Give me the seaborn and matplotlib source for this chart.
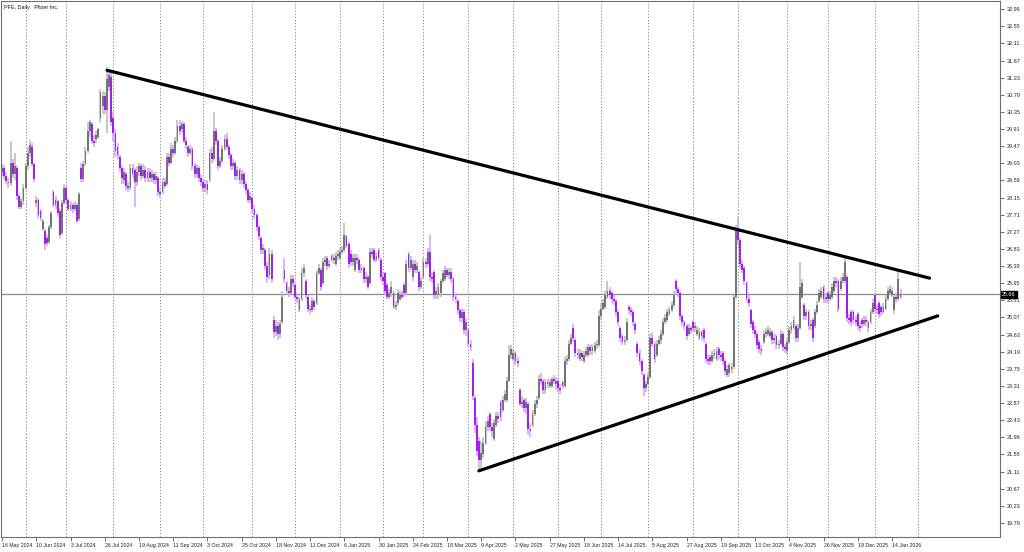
import numpy as np
import pandas as pd
import matplotlib
matplotlib.use('Agg')
import matplotlib.pyplot as plt
import matplotlib.transforms as mtransforms
import seaborn as sns

# PFE daily candles, 16 May 2024 .. 21 Jan 2026
opens = [
    28.80, 28.92, 28.70, 28.55, 28.52, 29.05, 28.75, 28.90, 28.20, 27.92,
    28.05, 28.40, 28.95, 29.30, 29.45, 29.00, 28.00, 28.10, 27.80, 27.35,
    27.30, 27.10, 27.00, 27.40, 28.30, 27.95, 28.05, 27.80, 27.25, 28.00,
    28.40, 28.10, 27.85, 27.95, 27.85, 27.95, 27.60, 28.90, 28.62, 29.00,
    29.35, 29.85, 30.05, 29.60, 29.65, 29.70, 30.20, 30.50, 30.75, 30.40,
    31.00, 31.25, 30.20, 29.80, 29.45, 29.20, 28.90, 28.60, 28.75, 28.45,
    28.40, 28.90, 28.85, 28.55, 28.80, 28.95, 28.70, 28.85, 28.65, 28.80,
    28.65, 28.75, 28.60, 28.65, 28.30, 28.30, 28.55, 28.50, 29.20, 29.05,
    29.40, 29.30, 29.60, 30.00, 29.90, 30.05, 29.60, 29.45, 29.30, 29.40,
    28.95, 28.75, 28.90, 28.65, 28.55, 28.40, 28.50, 28.60, 29.30, 29.15,
    29.85, 29.60, 28.95, 29.10, 29.40, 29.65, 29.45, 29.25, 28.95, 29.05,
    28.70, 28.85, 28.60, 28.75, 28.50, 28.35, 28.10, 28.15, 27.85, 27.70,
    27.40, 27.10, 26.80, 26.80, 26.40, 26.15, 26.70, 25.00, 24.70, 24.85,
    24.65, 24.95, 26.30, 25.95, 25.75, 25.70, 26.05, 25.90, 25.60, 25.25,
    25.55, 26.20, 26.00, 25.60, 25.30, 25.25, 25.50, 25.45, 26.20, 26.30,
    25.95, 26.50, 26.60, 26.40, 26.55, 26.60, 26.45, 26.65, 26.60, 26.75,
    26.80, 27.15, 26.95, 26.70, 26.50, 26.30, 26.60, 26.55, 26.30, 26.35,
    26.05, 26.10, 25.95, 26.75, 26.80, 26.55, 26.80, 26.55, 26.10, 26.20,
    25.90, 25.60, 25.70, 25.70, 25.35, 25.45, 25.55, 25.65, 25.90, 25.70,
    26.70, 26.35, 26.10, 26.45, 26.30, 26.25, 25.85, 26.10, 26.50, 26.45,
    26.75, 26.10, 26.25, 25.65, 25.65, 25.70, 26.00, 26.05, 26.30, 26.15,
    26.25, 26.05, 25.60, 25.50, 25.25, 25.05, 25.20, 24.75, 24.75, 24.40,
    23.90, 23.00, 22.30, 21.90, 21.40, 21.55, 21.85, 22.25, 22.60, 22.25,
    21.95, 22.30, 22.55, 22.90, 22.70, 22.95, 22.95, 23.45, 24.10, 24.00,
    24.15, 23.95, 23.20, 22.85, 22.95, 22.75, 22.85, 22.20, 22.30, 22.60,
    22.85, 23.00, 23.50, 23.45, 23.20, 23.40, 23.30, 23.30, 23.50, 23.35,
    23.45, 23.25, 23.40, 23.30, 23.95, 24.00, 24.40, 24.80, 24.50, 24.15,
    24.00, 24.15, 23.95, 24.10, 24.10, 24.30, 24.20, 24.20, 24.35, 24.35,
    25.10, 25.30, 25.35, 25.60, 25.75, 25.70, 25.55, 25.50, 25.20, 24.80,
    24.60, 24.45, 24.50, 25.35, 25.25, 25.20, 24.90, 24.40, 24.15, 23.95,
    23.60, 23.25, 23.35, 23.55, 24.55, 24.40, 24.10, 24.40, 24.50, 24.65,
    24.95, 25.00, 25.15, 25.25, 25.40, 26.00, 25.80, 25.70, 25.10, 24.95,
    24.85, 24.65, 24.80, 24.95, 24.80, 24.65, 24.55, 24.70, 24.75, 24.40,
    24.00, 24.05, 23.95, 24.10, 24.00, 24.25, 24.10, 24.15, 23.95, 23.60,
    23.65, 23.75, 23.80, 25.60, 27.35, 27.05, 26.45, 26.35, 25.95, 25.55,
    25.25, 24.95, 24.75, 24.65, 24.45, 24.25, 24.45, 24.65, 24.65, 24.60,
    24.70, 24.50, 24.60, 24.35, 24.40, 24.65, 24.30, 24.20, 24.45, 24.75,
    24.80, 24.85, 24.55, 24.80, 25.60, 25.40, 25.10, 25.20, 24.85, 25.00,
    24.85, 25.20, 25.50, 25.60, 25.85, 25.55, 25.70, 25.55, 25.60, 25.75,
    26.00, 26.00, 25.80, 26.00, 26.00, 26.10, 25.05, 25.20, 25.20, 25.00,
    25.15, 24.85, 25.00, 24.90, 25.00, 24.80, 24.95, 25.20, 25.65, 25.30,
    25.45, 25.35, 25.20, 25.30, 25.55, 25.70, 25.65, 25.25, 25.60, 25.55, 25.60,
]
highs = [
    29.00, 28.98, 28.80, 28.65, 29.60, 29.15, 29.30, 28.95, 28.25, 28.15,
    28.50, 29.05, 29.45, 29.62, 29.55, 29.05, 28.20, 28.15, 27.85, 27.60,
    27.35, 27.20, 27.45, 27.80, 28.35, 28.20, 28.10, 27.85, 28.10, 28.50,
    28.45, 28.15, 28.05, 28.00, 28.05, 28.00, 28.30, 29.05, 29.10, 29.45,
    30.10, 30.15, 30.10, 29.75, 29.85, 29.95, 30.95, 30.90, 30.85, 31.50,
    31.42, 31.35, 30.35, 29.90, 29.55, 29.25, 28.95, 28.90, 28.80, 28.55,
    29.00, 29.00, 28.90, 28.95, 29.05, 29.00, 29.00, 28.95, 28.90, 28.90,
    28.85, 28.80, 28.80, 28.70, 28.40, 28.65, 28.65, 29.30, 29.30, 29.55,
    29.50, 29.70, 30.15, 30.15, 30.10, 30.10, 29.70, 29.50, 29.50, 29.45,
    29.05, 29.00, 28.95, 28.75, 28.60, 28.60, 28.60, 29.40, 29.45, 30.35,
    29.95, 29.65, 29.20, 29.50, 29.75, 29.80, 29.50, 29.30, 29.15, 29.10,
    28.95, 28.90, 28.85, 28.80, 28.55, 28.40, 28.30, 28.20, 27.95, 27.75,
    27.45, 27.15, 26.95, 26.85, 26.50, 26.85, 26.80, 25.10, 25.00, 24.95,
    25.00, 25.75, 26.60, 26.00, 25.85, 26.15, 26.15, 25.95, 25.70, 25.60,
    26.35, 26.45, 26.05, 25.65, 25.40, 25.60, 25.55, 26.30, 26.45, 26.35,
    26.60, 26.65, 26.65, 26.55, 26.70, 26.70, 26.75, 26.80, 26.85, 26.90,
    27.50, 27.20, 27.00, 26.80, 26.70, 26.70, 26.70, 26.60, 26.45, 26.40,
    26.25, 26.15, 26.85, 26.85, 26.85, 26.75, 26.85, 26.60, 26.20, 26.25,
    25.95, 25.80, 26.00, 25.75, 25.50, 25.80, 25.75, 25.75, 25.95, 26.55,
    26.75, 26.65, 26.55, 26.55, 26.50, 26.30, 26.10, 26.60, 26.60, 26.85,
    27.20, 26.20, 26.30, 25.85, 25.95, 26.05, 26.30, 26.40, 26.35, 26.35,
    26.35, 26.10, 25.70, 25.55, 25.30, 25.30, 25.30, 25.05, 24.80, 24.50,
    24.00, 23.05, 22.50, 22.00, 21.90, 22.00, 22.40, 22.55, 22.65, 22.35,
    22.45, 22.65, 22.65, 22.95, 23.05, 23.20, 23.55, 24.35, 24.35, 24.25,
    24.20, 24.05, 23.25, 23.05, 23.00, 23.00, 22.90, 22.35, 22.70, 22.95,
    23.05, 23.60, 23.65, 23.50, 23.50, 23.50, 23.50, 23.55, 23.60, 23.55,
    23.50, 23.35, 23.45, 24.05, 24.10, 24.50, 24.65, 24.90, 24.55, 24.25,
    24.25, 24.20, 24.20, 24.30, 24.40, 24.35, 24.40, 24.45, 24.50, 25.25,
    25.45, 25.55, 25.75, 26.00, 25.85, 25.75, 25.65, 25.55, 25.25, 24.85,
    24.65, 24.60, 25.05, 25.40, 25.35, 25.25, 24.95, 24.45, 24.25, 24.00,
    23.65, 23.45, 23.65, 24.65, 24.70, 24.45, 24.50, 24.60, 24.75, 25.05,
    25.15, 25.30, 25.35, 25.50, 25.75, 26.05, 25.85, 25.75, 25.15, 25.00,
    24.90, 24.90, 24.85, 25.00, 24.95, 24.85, 24.80, 24.75, 24.80, 24.45,
    24.10, 24.10, 24.20, 24.25, 24.30, 24.30, 24.20, 24.20, 24.00, 23.85,
    23.90, 23.90, 25.65, 27.45, 27.65, 27.10, 26.55, 26.40, 26.00, 25.65,
    25.30, 25.00, 24.85, 24.70, 24.50, 24.35, 24.75, 24.80, 24.85, 24.80,
    24.75, 24.65, 24.65, 24.50, 24.75, 24.70, 24.40, 24.55, 24.85, 24.95,
    25.10, 24.90, 24.90, 26.50, 26.05, 25.45, 25.30, 25.25, 25.00, 25.05,
    25.30, 25.50, 25.80, 25.85, 25.90, 25.70, 25.75, 25.75, 25.95, 26.10,
    26.10, 26.05, 26.10, 26.20, 26.60, 26.15, 25.15, 25.25, 25.25, 25.10,
    25.20, 24.95, 25.05, 25.10, 25.10, 25.00, 25.30, 25.55, 25.70, 25.40,
    25.50, 25.40, 25.45, 25.65, 25.85, 25.90, 25.85, 25.65, 25.70, 26.30, 25.80,
]
lows = [
    28.70, 28.62, 28.50, 28.40, 28.45, 28.65, 28.60, 28.10, 27.85, 27.85,
    27.95, 28.35, 28.85, 29.20, 28.95, 28.55, 27.90, 27.62, 27.55, 27.30,
    26.80, 26.90, 26.95, 27.35, 27.90, 27.85, 27.65, 27.10, 27.20, 27.95,
    28.00, 27.80, 27.80, 27.75, 27.80, 27.50, 27.55, 28.55, 28.55, 28.95,
    29.30, 29.70, 29.55, 29.45, 29.55, 29.65, 30.10, 30.30, 30.30, 29.80,
    30.90, 30.00, 29.60, 29.20, 29.15, 28.80, 28.50, 28.50, 28.35, 28.30,
    28.35, 28.65, 27.90, 28.45, 28.70, 28.60, 28.65, 28.55, 28.55, 28.55,
    28.55, 28.50, 28.50, 28.20, 28.15, 28.25, 28.40, 28.45, 28.95, 29.00,
    29.20, 29.25, 29.55, 29.75, 29.80, 29.55, 29.40, 29.20, 29.25, 28.85,
    28.65, 28.65, 28.55, 28.45, 28.30, 28.30, 28.25, 28.55, 29.05, 29.10,
    29.50, 28.85, 28.90, 29.05, 29.35, 29.40, 29.15, 28.85, 28.85, 28.60,
    28.60, 28.50, 28.50, 28.40, 28.25, 28.00, 28.00, 27.75, 27.60, 27.30,
    27.05, 26.70, 26.70, 26.30, 25.95, 26.05, 25.95, 24.55, 24.60, 24.50,
    24.55, 24.90, 25.95, 25.65, 25.60, 25.65, 25.85, 25.55, 25.45, 25.20,
    25.50, 26.10, 25.55, 25.20, 25.15, 25.20, 25.25, 25.40, 26.15, 25.75,
    25.90, 26.40, 26.30, 26.35, 26.50, 26.45, 26.40, 26.55, 26.55, 26.70,
    26.75, 26.85, 26.35, 26.40, 26.40, 26.25, 26.45, 26.20, 26.20, 25.95,
    25.95, 25.80, 25.90, 26.60, 26.50, 26.50, 26.55, 26.00, 25.90, 25.65,
    25.55, 25.55, 25.60, 25.30, 25.25, 25.40, 25.50, 25.55, 25.60, 25.65,
    26.25, 26.30, 26.00, 26.20, 26.20, 25.75, 25.80, 26.05, 26.35, 26.40,
    26.00, 25.95, 25.55, 25.55, 25.55, 25.60, 25.95, 26.00, 26.10, 26.05,
    25.95, 25.50, 25.45, 25.15, 24.95, 24.95, 24.65, 24.60, 24.30, 24.20,
    22.95, 22.10, 21.50, 21.10, 21.20, 21.45, 21.80, 22.15, 22.15, 22.00,
    21.90, 22.25, 22.35, 22.40, 22.65, 22.90, 22.90, 23.40, 24.00, 23.95,
    23.85, 23.80, 22.80, 22.75, 22.65, 22.60, 22.05, 22.00, 22.25, 22.55,
    22.75, 22.95, 23.35, 23.10, 23.10, 23.25, 23.25, 23.25, 23.35, 23.20,
    23.15, 23.10, 23.25, 23.25, 23.85, 23.95, 24.35, 24.45, 24.05, 24.00,
    23.95, 23.95, 23.90, 24.05, 24.05, 24.10, 24.10, 24.15, 24.25, 24.30,
    25.00, 25.25, 25.30, 25.55, 25.55, 25.45, 25.40, 25.10, 24.85, 24.45,
    24.35, 24.35, 24.45, 25.15, 25.10, 24.85, 24.65, 24.05, 23.85, 23.60,
    23.05, 23.15, 23.30, 23.50, 24.30, 23.90, 24.05, 24.35, 24.40, 24.60,
    24.90, 24.95, 25.10, 25.20, 25.35, 25.70, 25.60, 25.00, 24.85, 24.75,
    24.50, 24.60, 24.65, 24.70, 24.70, 24.60, 24.50, 24.50, 24.45, 23.90,
    23.85, 23.85, 23.90, 24.00, 23.95, 24.00, 23.95, 23.85, 23.60, 23.55,
    23.55, 23.65, 23.75, 25.55, 26.95, 26.35, 26.20, 25.90, 25.45, 25.35,
    24.80, 24.65, 24.55, 24.25, 24.15, 24.10, 24.40, 24.55, 24.60, 24.55,
    24.40, 24.40, 24.25, 24.25, 24.35, 24.20, 24.15, 24.10, 24.40, 24.65,
    24.75, 24.45, 24.45, 24.75, 25.55, 25.00, 25.00, 24.75, 24.75, 24.45,
    24.80, 25.15, 25.45, 25.55, 25.45, 25.45, 25.45, 25.50, 25.55, 25.70,
    25.85, 25.20, 25.75, 25.95, 25.95, 24.95, 24.90, 24.85, 24.90, 24.85,
    24.75, 24.70, 24.80, 24.85, 24.85, 24.70, 24.90, 25.15, 25.20, 25.15,
    25.05, 25.10, 25.15, 25.25, 25.50, 25.65, 25.60, 25.15, 25.45, 25.50, 25.55,
]
closes = [
    28.92, 28.70, 28.58, 28.52, 29.05, 28.75, 28.95, 28.20, 27.92, 28.05,
    28.40, 28.95, 29.30, 29.50, 29.00, 28.62, 28.10, 27.70, 27.62, 27.55,
    26.95, 26.98, 27.40, 27.75, 27.95, 28.10, 27.75, 27.20, 28.00, 28.40,
    28.10, 27.85, 27.95, 27.85, 27.95, 27.55, 28.25, 28.62, 29.00, 29.35,
    29.85, 30.10, 29.60, 29.55, 29.75, 29.90, 30.85, 30.75, 30.40, 31.20,
    31.30, 30.10, 29.80, 29.35, 29.25, 28.90, 28.65, 28.80, 28.45, 28.40,
    28.90, 28.75, 28.55, 28.80, 28.95, 28.70, 28.85, 28.65, 28.80, 28.65,
    28.75, 28.60, 28.70, 28.30, 28.25, 28.55, 28.45, 29.20, 29.05, 29.40,
    29.30, 29.60, 30.00, 29.85, 30.05, 29.60, 29.50, 29.30, 29.40, 28.95,
    28.75, 28.90, 28.65, 28.55, 28.40, 28.50, 28.35, 29.30, 29.15, 29.85,
    29.60, 28.95, 29.10, 29.40, 29.65, 29.45, 29.25, 28.95, 29.05, 28.70,
    28.85, 28.60, 28.75, 28.50, 28.35, 28.10, 28.20, 27.85, 27.70, 27.40,
    27.15, 26.80, 26.85, 26.40, 26.10, 26.70, 26.05, 24.70, 24.85, 24.65,
    24.90, 25.60, 26.05, 25.75, 25.70, 26.05, 25.95, 25.60, 25.55, 25.55,
    26.20, 26.35, 25.65, 25.30, 25.25, 25.50, 25.35, 26.20, 26.35, 25.85,
    26.50, 26.55, 26.40, 26.45, 26.65, 26.55, 26.65, 26.70, 26.75, 26.80,
    27.20, 26.90, 26.45, 26.50, 26.60, 26.60, 26.55, 26.30, 26.35, 26.05,
    26.10, 25.85, 26.75, 26.70, 26.55, 26.65, 26.60, 26.10, 26.00, 25.75,
    25.60, 25.70, 25.85, 25.35, 25.40, 25.70, 25.65, 25.60, 25.70, 26.45,
    26.35, 26.55, 26.45, 26.30, 26.40, 25.85, 26.00, 26.50, 26.45, 26.75,
    26.10, 26.05, 25.65, 25.75, 25.85, 26.00, 26.20, 26.30, 26.15, 26.25,
    26.05, 25.60, 25.55, 25.25, 25.05, 25.20, 24.75, 24.95, 24.40, 24.30,
    23.05, 22.30, 21.65, 21.40, 21.60, 21.85, 22.25, 22.40, 22.25, 22.15,
    22.35, 22.55, 22.45, 22.50, 22.95, 23.10, 23.45, 24.10, 24.25, 24.15,
    23.95, 23.90, 22.85, 22.90, 22.75, 22.90, 22.20, 22.15, 22.60, 22.85,
    22.95, 23.50, 23.45, 23.20, 23.40, 23.35, 23.40, 23.50, 23.45, 23.45,
    23.25, 23.20, 23.30, 23.95, 24.00, 24.40, 24.55, 24.55, 24.15, 24.10,
    24.15, 24.05, 24.10, 24.20, 24.30, 24.20, 24.30, 24.35, 24.40, 25.10,
    25.30, 25.45, 25.65, 25.75, 25.65, 25.55, 25.50, 25.20, 24.95, 24.55,
    24.45, 24.50, 24.95, 25.25, 25.20, 24.95, 24.75, 24.15, 23.95, 23.70,
    23.25, 23.35, 23.55, 24.55, 24.40, 24.00, 24.40, 24.50, 24.65, 24.95,
    25.05, 25.20, 25.25, 25.40, 25.65, 25.80, 25.70, 25.10, 24.95, 24.85,
    24.60, 24.80, 24.75, 24.80, 24.85, 24.75, 24.70, 24.60, 24.55, 24.00,
    23.95, 23.95, 24.10, 24.15, 24.20, 24.10, 24.05, 23.95, 23.70, 23.75,
    23.85, 23.80, 25.60, 27.30, 27.05, 26.45, 26.30, 26.00, 25.55, 25.45,
    24.90, 24.75, 24.65, 24.35, 24.25, 24.20, 24.65, 24.70, 24.75, 24.70,
    24.50, 24.55, 24.35, 24.40, 24.65, 24.30, 24.25, 24.45, 24.75, 24.85,
    25.00, 24.55, 24.80, 25.85, 25.95, 25.10, 25.20, 24.85, 24.90, 24.55,
    25.20, 25.40, 25.70, 25.75, 25.55, 25.60, 25.55, 25.65, 25.85, 26.00,
    25.95, 25.30, 26.00, 26.10, 26.50, 25.05, 25.00, 24.95, 25.00, 24.95,
    24.85, 24.80, 24.90, 25.00, 24.95, 24.95, 25.20, 25.45, 25.30, 25.25,
    25.15, 25.20, 25.35, 25.55, 25.75, 25.80, 25.75, 25.60, 25.55, 26.05, 25.66,
]

# bottom axis labels, one every 16 bars
tick_labels = ['16 May 2024', '10 Jun 2024', '3 Jul 2024', '26 Jul 2024', '19 Aug 2024',
               '11 Sep 2024', '3 Oct 2024', '25 Oct 2024', '18 Nov 2024', '11 Dec 2024',
               '6 Jan 2025', '30 Jan 2025', '24 Feb 2025', '18 Mar 2025', '9 Apr 2025',
               '2 May 2025', '27 May 2025', '18 Jun 2025', '14 Jul 2025', '5 Aug 2025',
               '27 Aug 2025', '19 Sep 2025', '13 Oct 2025', '4 Nov 2025', '26 Nov 2025',
               '19 Dec 2025', '14 Jan 2026']
tick_step = 16

# exchange holidays, used for the monthly separators
holidays = ['2024-05-27', '2024-06-19', '2024-07-04', '2024-09-02', '2024-11-28',
            '2024-12-25', '2025-01-01', '2025-01-09', '2025-01-20', '2025-02-17',
            '2025-04-18', '2025-05-26', '2025-06-19', '2025-07-04', '2025-09-01',
            '2025-11-27', '2025-12-25', '2026-01-01', '2026-01-19']

# trend lines: (bar index, price) anchors
upper_bars = [49.1, 433.6]
upper_prices = [31.42, 26.08]
lower_bars = [222.9, 437.4]
lower_prices = [21.13, 25.11]

last_price = 25.66
y_ticks = [19.79, 20.23, 20.67, 21.11, 21.55, 21.99, 22.43, 22.87, 23.31, 23.75,
           24.19, 24.63, 25.07, 25.51, 25.95, 26.39, 26.83, 27.27, 27.71, 28.15,
           28.59, 29.03, 29.47, 29.91, 30.35, 30.79, 31.23, 31.67, 32.11, 32.55, 32.99]

sns.set_theme(style='white')
plt.rcParams['font.family'] = ['Liberation Sans', 'DejaVu Sans']

o = np.array(opens); h = np.array(highs); l = np.array(lows); c = np.array(closes)
n = len(c)
idx = np.arange(n)
h = np.maximum(h, np.maximum(o, c))
l = np.minimum(l, np.minimum(o, c))
up = c >= o

fig = plt.figure(figsize=(10.24, 5.52), dpi=100)
ax = fig.add_axes([1 / 1024, 15 / 552, 999 / 1024, 536 / 552])

# month separators (dotted)
cal = pd.offsets.CustomBusinessDay(holidays=holidays)
dates = pd.date_range('2024-05-16', periods=n + 10, freq=cal)
month = dates.to_period('M')
sep = [i for i in range(1, len(dates)) if month[i] != month[i - 1]]
for s in sep:
    ax.axvline(s, color='#808080', lw=0.7, ls=(0, (1.2, 2)), zorder=0)

# current price line
ax.axhline(last_price, color='#8a8a8a', lw=0.9, zorder=1)

# candles
purple, purple_w = '#a020f0', '#d4a0f2'
grey, grey_w = '#747474', '#b8b8b8'
ax.vlines(idx[up], l[up], h[up], color=grey_w, lw=1.1, zorder=2)
ax.vlines(idx[~up], l[~up], h[~up], color=purple_w, lw=1.1, zorder=2)
body = np.maximum(np.abs(c - o), 0.02)
ax.bar(idx[up], body[up], bottom=np.minimum(o, c)[up], width=0.85,
       color=grey, linewidth=0, zorder=3)
ax.bar(idx[~up], body[~up], bottom=np.minimum(o, c)[~up], width=0.85,
       color=purple, linewidth=0, zorder=3)

# triangle trend lines
sns.lineplot(x=upper_bars, y=upper_prices, color='black', lw=2.3, ax=ax, zorder=4)
sns.lineplot(x=lower_bars, y=lower_prices, color='black', lw=2.3, ax=ax, zorder=4)

ax.set_xlim(-0.5, 466.5)
ax.set_ylim(19.43, 33.20)

ax.set_xticks(np.arange(len(tick_labels)) * tick_step)
ax.set_xticklabels(tick_labels, fontsize=3.8, ha='left', color='#222222')
ax.tick_params(axis='x', direction='out', length=3, width=0.6, pad=1.5, color='#555555')
ax.yaxis.tick_right()
ax.set_yticks(y_ticks)
ax.set_yticklabels(['%.2f' % v for v in y_ticks], fontsize=4.0, color='#222222')
ax.tick_params(axis='y', direction='out', length=3, width=0.6, pad=1.5, color='#555555')
ax.tick_params(bottom=True, right=True, left=False)
for sp in ax.spines.values():
    sp.set_color('#707070')
    sp.set_linewidth(0.8)
ax.set_xlabel('')
ax.set_ylabel('')

ax.text(0.003, 0.992, 'PFE, Daily:  Pfizer Inc.', transform=ax.transAxes,
        fontsize=3.9, va='top', ha='left', color='#111111')

tr = mtransforms.blended_transform_factory(ax.transAxes, ax.transData)
ax.text(1.002, last_price, '%.2f' % last_price, transform=tr, fontsize=4.0,
        color='white', va='center', ha='left',
        bbox=dict(boxstyle='square,pad=0.2', fc='black', ec='black'))

fig.savefig('out.png', dpi=100)
